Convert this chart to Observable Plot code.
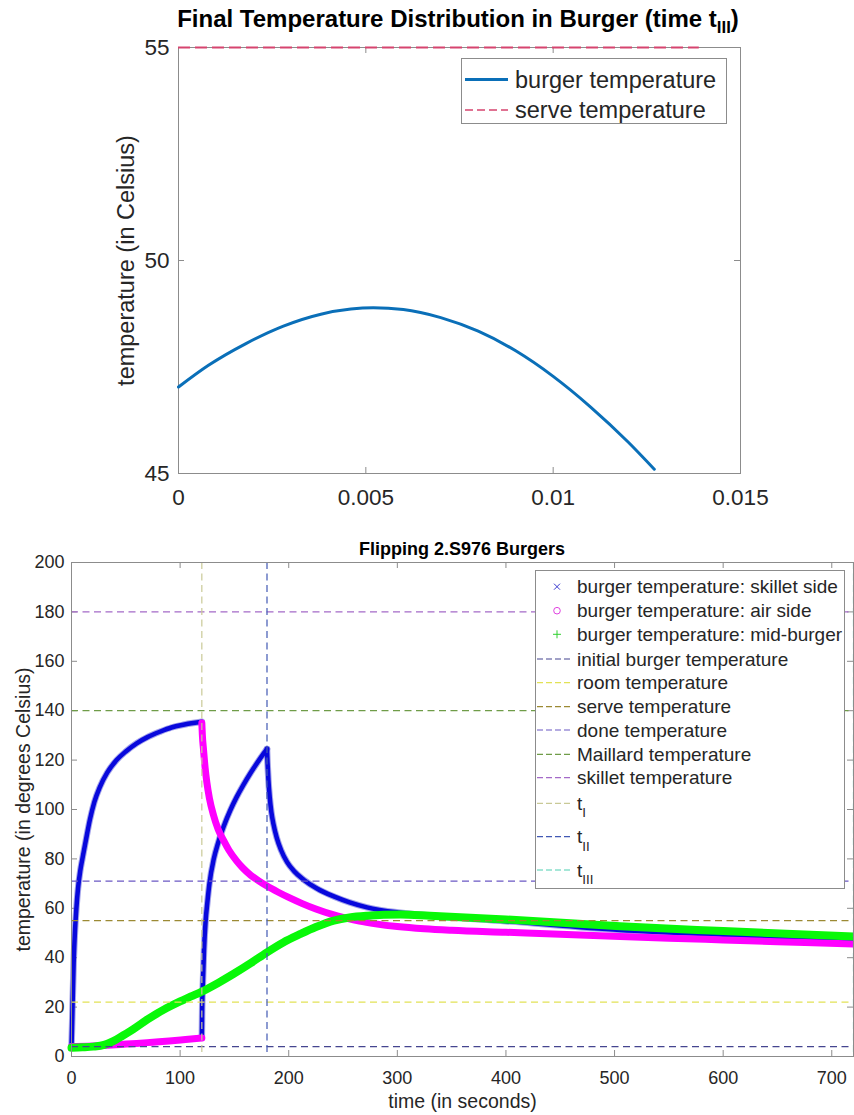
<!DOCTYPE html>
<html>
<head>
<meta charset="utf-8">
<script src="https://cdn.jsdelivr.net/npm/d3@7"></script>
<script src="https://cdn.jsdelivr.net/npm/@observablehq/plot@0.6"></script>
<style>
  html, body { margin: 0; padding: 0; background: #fff; }
  #page { position: relative; width: 854px; height: 1115px; overflow: hidden;
          font-family: "Liberation Sans", Arial, Helvetica, sans-serif; color: #262626; }
  .chart { position: absolute; left: 0; }
  .title { position: absolute; font-weight: bold; white-space: nowrap; line-height: 1;
           transform: translateX(-50%); color: #000; }
  .title .sub { font-size: 0.7em; vertical-align: -0.38em; }
</style>
</head>
<body>
<div id="page">
  <div id="profile" class="chart" style="top:0"></div>
  <div id="flipping" class="chart" style="top:530px"></div>
  <div class="title" style="left:458px; top:7px; font-size:24px">Final Temperature Distribution in Burger (time t<span class="sub">III</span>)</div>
  <div class="title" style="left:462px; top:540px; font-size:18px">Flipping 2.S976 Burgers</div>
</div>
<script>
const FONT = '"Liberation Sans", Arial, Helvetica, sans-serif';
const AXIS_GRAY = "#8c8c8c";
const TEXT = "#262626";

// ---------- temperature profile through the patty at time t_III ----------
const positionM   = [0, 0.0008, 0.0018, 0.0028, 0.0038, 0.0046, 0.0052, 0.0060, 0.0070, 0.0080, 0.0090, 0.0100, 0.0110, 0.0120, 0.0127];
const finalTempC  = [47.03, 47.54, 48.05, 48.46, 48.74, 48.86, 48.89, 48.85, 48.66, 48.34, 47.88, 47.28, 46.56, 45.74, 45.1];
const serveTempC  = 55;
const serveExtent = [0, 0.0139];
const positionTicks = [0, 0.005, 0.01, 0.015];
const profileTicks  = [45, 50, 55];

// ---------- surface and centre temperatures while cooking ----------
// [time s, temperature °C]; each array is one continuous stretch (the burger is flipped at t_I)
const skilletSideFirst = [[0,4],[0.5,12],[1,21],[2,38],[3,49],[4.5,60],[6,68],[8,75],[10,80],[13,87],[17,96],[21,103],[26,109],[33,115],[41.5,120],[50,123.5],[60,126.8],[70,129.3],[81.5,131.5],[92,133.2],[103,134.3],[112,135],[120,135.5]];
const skilletSideSecond = [[120,7.5],[120.3,19],[121,30],[122,43],[123.5,55],[125,62],[127,70],[131,80],[135,86.5],[140,93],[146,99.5],[152,105],[158,109.8],[165,114.9],[171,118.9],[177,122.7],[180,124.5]];
const skilletSideRest = [[180,124.5],[180.5,119],[181.3,112],[182.5,105],[184,99],[186,94],[189,88.5],[193,83.5],[198.5,78.7],[205,75],[214,71.5],[226,68],[241.5,64.8],[256,62.4],[272,60.4],[301,58.3],[330,57.1],[400,54.8],[505,51.2],[600,49.3],[720,47.3]];
const airSideFirst = [[0,4],[15,4.2],[30,4.5],[45,4.9],[60,5.3],[75,5.8],[90,6.3],[105,6.9],[120,7.5]];
const airSideRest = [[120,135],[120.5,130],[121.5,124.5],[123,117],[124.6,111],[127,104.5],[130.8,97.6],[135,92],[140,87.5],[145,83.5],[152,79.2],[158,76.2],[165,73.4],[172,71.2],[180,69],[190,66.6],[200,64.4],[212,62],[225,59.7],[240,57.5],[250,56.3],[265,54.8],[280,53.7],[300,52.6],[325,51.7],[350,51.1],[400,50.3],[450,49.5],[505,48.6],[550,47.9],[600,47.2],[650,46.5],[720,45.5]];
const midBurger = [[0,3.5],[10,3.7],[20,4],[30,4.7],[38.5,6.2],[47,8.4],[57,11.1],[70,15],[87.7,19.6],[100,22.3],[110,24.3],[120,26.3],[135,29.8],[149,33.4],[165,37.8],[180,42.2],[195,46.2],[210.8,49.6],[225,52.4],[241.5,55],[256,56.3],[272,57],[303,57.5],[330,57],[400,55.5],[505,52.7],[600,50.8],[720,48.6]];

// reference temperatures (°C) and event times (s)
const refNames  = ["initial burger temperature", "room temperature", "serve temperature", "done temperature", "Maillard temperature", "skillet temperature"];
const refTemps  = [4, 22, 55, 71, 140, 180];
const refColors = ["#45458f", "#e2e256", "#9c8a34", "#6b58c4", "#6f9c48", "#a46ac8"];
const eventNames  = ["I", "II", "III"];
const eventTimes  = [120, 180, 720];
const eventColors = ["#c9c996", "#4259b4", "#4fd0b2"];
const timeTicks = [0, 100, 200, 300, 400, 500, 600, 700];
const tempTicks = [0, 20, 40, 60, 80, 100, 120, 140, 160, 180, 200];

const seriesNames  = ["burger temperature: skillet side", "burger temperature: air side", "burger temperature: mid-burger"];
const seriesColors = ["#0808dc", "#ff00ff", "#08f808"];

// inward ticks on all four sides, as in a boxed axes
function boxTicks(xt, yt, innerW, innerH, len) {
  return [
    Plot.tickX(xt, {x: d => d, insetTop: innerH - len, stroke: AXIS_GRAY}),
    Plot.tickX(xt, {x: d => d, insetBottom: innerH - len, stroke: AXIS_GRAY}),
    Plot.tickY(yt, {y: d => d, insetRight: innerW - len, stroke: AXIS_GRAY}),
    Plot.tickY(yt, {y: d => d, insetLeft: innerW - len, stroke: AXIS_GRAY})
  ];
}

// ---------------- upper chart ----------------
{
  const W = 854, H = 520, mt = 47, mb = 47, ml = 178, mr = 114;
  const profile = positionM.map((x, i) => ({x, t: finalTempC[i]}));
  const chart = Plot.plot({
    width: W, height: H, marginTop: mt, marginBottom: mb, marginLeft: ml, marginRight: mr,
    style: {fontFamily: FONT, color: TEXT, background: "transparent", overflow: "visible"},
    x: {domain: [0, 0.015]},
    y: {domain: [45, 55]},
    marks: [
      Plot.frame({stroke: AXIS_GRAY}),
      ...boxTicks(positionTicks, profileTicks, W - ml - mr, H - mt - mb, 6),
      Plot.axisX(positionTicks, {anchor: "bottom", tickSize: 0, tickPadding: 16, fontSize: 22.5, tickFormat: d => String(d), label: null}),
      Plot.axisY(profileTicks, {anchor: "left", tickSize: 0, tickPadding: 9, fontSize: 22.5, label: null}),
      Plot.text(["temperature (in Celsius)"], {text: d => d, frameAnchor: "left", rotate: -90, dx: -52.5,
        textAnchor: "middle", lineAnchor: "middle", fontSize: 23.5, fill: TEXT}),
      Plot.line(profile, {x: "x", y: "t", stroke: "#0a6fb8", strokeWidth: 3, curve: "monotone-x"}),
      Plot.ruleY([serveTempC], {y: d => d, x1: () => serveExtent[0], x2: () => serveExtent[1],
        stroke: "#d6446f", strokeWidth: 2, strokeDasharray: "12,5"})
    ]
  });
  document.getElementById("profile").append(chart);
}

// ---------------- lower chart ----------------
{
  const W = 854, H = 585, mt = 32, mb = 59, ml = 71, mr = 1;
  const seg = (arr) => arr.map(([t, c]) => ({t, c}));
  const line = (arr, color, w, opacity = 1) => Plot.line(seg(arr), {x: "t", y: "c", stroke: color, strokeWidth: w,
    strokeOpacity: opacity, curve: "monotone-x", strokeLinecap: "round", strokeLinejoin: "round"});
  const skilletSide = [skilletSideFirst, skilletSideSecond, skilletSideRest];
  const chart = Plot.plot({
    width: W, height: H, marginTop: mt, marginBottom: mb, marginLeft: ml, marginRight: mr,
    style: {fontFamily: FONT, color: TEXT, background: "transparent", overflow: "visible"},
    x: {domain: [0, 720]},
    y: {domain: [0, 200]},
    marks: [
      ...boxTicks(timeTicks, tempTicks, W - ml - mr, H - mt - mb, 6),
      Plot.axisX(timeTicks, {anchor: "bottom", tickSize: 0, tickPadding: 15, fontSize: 18, label: null}),
      Plot.axisY(tempTicks, {anchor: "left", tickSize: 0, tickPadding: 7, fontSize: 18, label: null}),
      Plot.text(["time (in seconds)"], {text: d => d, frameAnchor: "bottom", dy: 45,
        textAnchor: "middle", lineAnchor: "middle", fontSize: 19.5, fill: TEXT}),
      Plot.text(["temperature (in degrees Celsius)"], {text: d => d, frameAnchor: "left", rotate: -90, dx: -48,
        textAnchor: "middle", lineAnchor: "middle", fontSize: 19.5, fill: TEXT}),
      // skillet side: soft halo of the dense "x" markers, then the solid core
      ...skilletSide.map(s => line(s, "#5a5ad8", 6.5, 0.55)),
      ...skilletSide.map(s => line(s, seriesColors[0], 4.5)),
      line(airSideFirst, seriesColors[1], 7),
      line(airSideRest, seriesColors[1], 7),
      line(midBurger, seriesColors[2], 8),
      Plot.ruleY(refTemps, {y: d => d, stroke: (d, i) => refColors[i], strokeWidth: 1.2, strokeDasharray: "7,4.5"}),
      Plot.ruleX(eventTimes, {x: d => d, stroke: (d, i) => eventColors[i], strokeWidth: 1.2, strokeDasharray: "7,4.5"}),
      Plot.frame({stroke: AXIS_GRAY})
    ]
  });
  document.getElementById("flipping").append(chart);
}

// ---------------- legends ----------------
function legendBox(left, top, w, h) {
  const svg = d3.select("#page").append("svg")
    .attr("width", w + 1).attr("height", h + 1)
    .style("position", "absolute").style("left", left + "px").style("top", top + "px")
    .style("font-family", FONT);
  svg.append("rect").attr("x", 0.5).attr("y", 0.5).attr("width", w).attr("height", h)
    .attr("fill", "#fff").attr("stroke", AXIS_GRAY);
  return svg;
}

// upper legend
{
  const svg = legendBox(461, 58, 265, 65);
  const rows = [21.5, 52];
  svg.append("line").attr("x1", 4).attr("x2", 47).attr("y1", rows[0]).attr("y2", rows[0])
    .attr("stroke", "#0a6fb8").attr("stroke-width", 3);
  svg.append("line").attr("x1", 4).attr("x2", 47).attr("y1", rows[1]).attr("y2", rows[1])
    .attr("stroke", "#d6446f").attr("stroke-width", 1.5).attr("stroke-dasharray", "8,4");
  ["burger temperature", "serve temperature"].forEach((s, i) => {
    svg.append("text").attr("x", 54).attr("y", rows[i]).attr("dy", "0.35em")
      .attr("font-size", 23.5).attr("fill", TEXT).text(s);
  });
}

// lower legend
{
  const svg = legendBox(535, 570, 309, 318);
  const rowY = [16.7, 40.7, 64.3, 89, 112.7, 136.7, 160, 184.3, 207.7, 233.3, 266.7, 300];
  const textX = 42, fs = 19;
  const label = (y, main, sub) => {
    const t = svg.append("text").attr("x", textX).attr("y", y).attr("dy", "0.35em")
      .attr("font-size", fs).attr("fill", TEXT);
    t.append("tspan").text(main);
    if (sub) t.append("tspan").attr("font-size", fs * 0.7).attr("dy", "0.55em").text(sub);
  };
  // marker swatches
  const mx = 22;
  const g0 = svg.append("g").attr("stroke", "#3a3ad0").attr("stroke-width", 1);
  g0.append("line").attr("x1", mx - 3).attr("x2", mx + 3).attr("y1", rowY[0] - 3).attr("y2", rowY[0] + 3);
  g0.append("line").attr("x1", mx - 3).attr("x2", mx + 3).attr("y1", rowY[0] + 3).attr("y2", rowY[0] - 3);
  svg.append("circle").attr("cx", mx).attr("cy", rowY[1]).attr("r", 3.3)
    .attr("fill", "none").attr("stroke", "#e040e0").attr("stroke-width", 1);
  const g2 = svg.append("g").attr("stroke", "#30d030").attr("stroke-width", 1);
  g2.append("line").attr("x1", mx - 4).attr("x2", mx + 4).attr("y1", rowY[2]).attr("y2", rowY[2]);
  g2.append("line").attr("x1", mx).attr("x2", mx).attr("y1", rowY[2] - 4).attr("y2", rowY[2] + 4);
  seriesNames.forEach((s, i) => label(rowY[i], s));
  // dashed swatches
  const dashRow = (y, color) => svg.append("line").attr("x1", 2).attr("x2", 38).attr("y1", y).attr("y2", y)
    .attr("stroke", color).attr("stroke-width", 1.2).attr("stroke-dasharray", "6,3");
  refNames.forEach((s, i) => { dashRow(rowY[3 + i], refColors[i]); label(rowY[3 + i], s); });
  eventNames.forEach((s, i) => { dashRow(rowY[9 + i], eventColors[i]); label(rowY[9 + i], "t", s); });
}
</script>
</body>
</html>
